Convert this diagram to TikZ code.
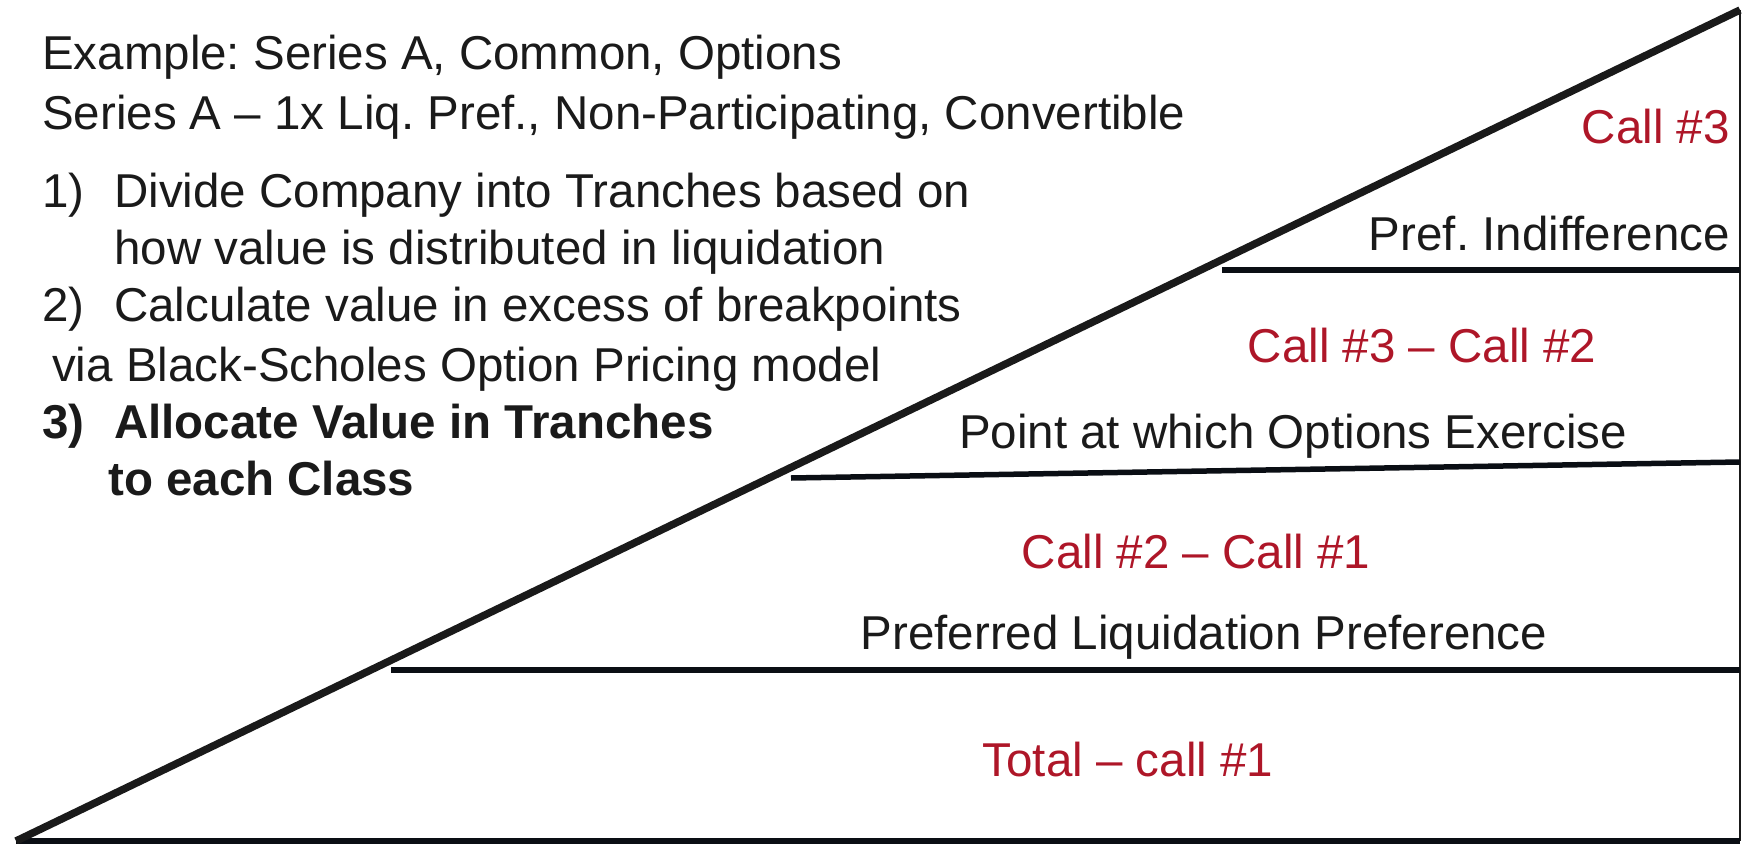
\documentclass[tikz,border=0pt]{standalone}
\usepackage{fontspec}
\setmainfont{Liberation Sans}
\definecolor{callred}{RGB}{174,22,40}
\definecolor{ink}{RGB}{26,26,26}
\definecolor{rule}{RGB}{10,14,20}
\frenchspacing
\begin{document}
\begin{tikzpicture}[x=1pt,y=-1pt,
  base/.style={inner sep=0pt, font=\fontsize{47.5}{57}\selectfont},
  lefttxt/.style={base, anchor=base west, text=ink},
  blk/.style={base, anchor=base, text=ink},
  red/.style={base, anchor=base, text=callred},
  diag/.style={draw=ink, line width=7.5pt},
  tranche/.style={draw=rule, line width=5.5pt},
  frame/.style={draw=ink, line width=2pt}]
\useasboundingbox (0,0) rectangle (1742,843);
% geometry
\coordinate (bl) at (16,841);
\coordinate (tr) at (1740,10);
\coordinate (br) at (1740,841);
\coordinate (h1a) at (1222,270);
\coordinate (h1b) at (1740,270);
\coordinate (h2a) at (791,478);
\coordinate (h2b) at (1740,462);
\coordinate (h3a) at (391,670);
\coordinate (h3b) at (1740,670);
\draw[frame] (tr) -- (br);
\draw[tranche] (bl) -- (br);
\draw[tranche] (h1a) -- (h1b);
\draw[tranche] (h2a) -- (h2b);
\draw[tranche] (h3a) -- (h3b);
\draw[diag] (bl) -- (tr);
% left text
\node[lefttxt] (t1) at (42,70) {Example: Series A, Common, Options};
\node[lefttxt] (t2) at (42,129) {Series A – 1x Liq. Pref., Non-Participating, Convertible};
\node[lefttxt] (n1) at (42,207) {1)};
\node[lefttxt] (s1a) at (114,207) {Divide Company into Tranches based on};
\node[lefttxt] (s1b) at (114,264) {how value is distributed in liquidation};
\node[lefttxt] (n2) at (42,321) {2)};
\node[lefttxt] (s2a) at (114,321) {Calculate value in excess of breakpoints};
\node[lefttxt] (s2b) at (52,381) {via Black-Scholes Option Pricing model};
\node[lefttxt, font=\fontsize{47.5}{57}\selectfont\bfseries] (n3) at (42,438) {3)};
\node[lefttxt, font=\fontsize{47.5}{57}\selectfont\bfseries] (s3a) at (114,438) {Allocate Value in Tranches};
\node[lefttxt, font=\fontsize{47.5}{57}\selectfont\bfseries] (s3b) at (108,495) {to each Class};
% tranche labels
\node[red, anchor=base east] (c3) at (1730,143) {Call \#3};
\node[blk, anchor=base east] (pi) at (1730,250) {Pref. Indifference};
\node[red] (c32) at (1422,362) {Call \#3 – Call \#2};
\node[blk] (pe) at (1293,448) {Point at which Options Exercise};
\node[red] (c21) at (1196,568) {Call \#2 – Call \#1};
\node[blk] (plp) at (1204,649) {Preferred Liquidation Preference};
\node[red] (tot) at (1128,776) {Total – call \#1};
\end{tikzpicture}
\end{document}
